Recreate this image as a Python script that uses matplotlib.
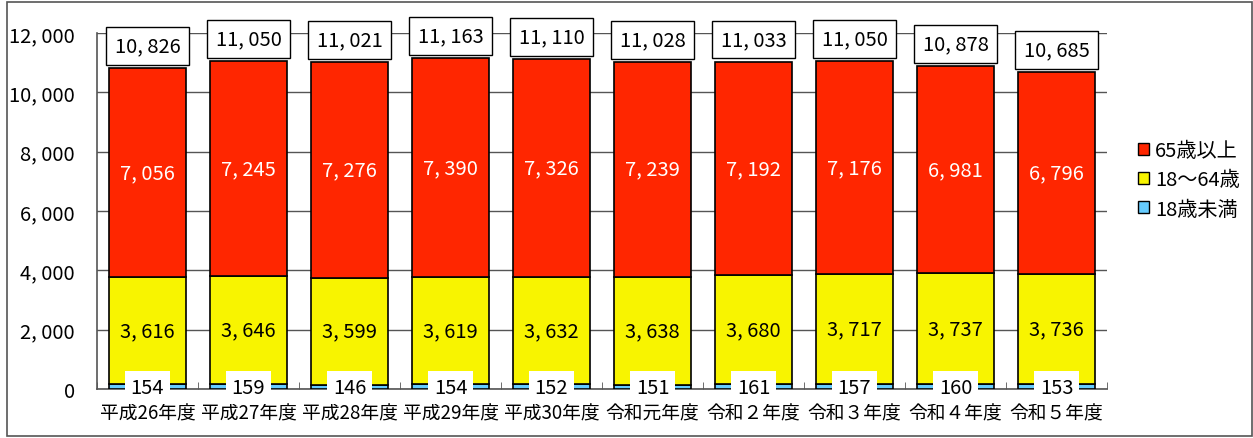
import matplotlib
matplotlib.use("Agg")
import matplotlib.pyplot as plt
from matplotlib.patches import Rectangle, Patch
import numpy as np

plt.rcParams['font.family'] = ['Noto Sans CJK JP', 'DejaVu Sans']

categories = ["平成26年度", "平成27年度", "平成28年度", "平成29年度", "平成30年度",
              "令和元年度", "令和２年度", "令和３年度", "令和４年度", "令和５年度"]
under18 = [154, 159, 146, 154, 152, 151, 161, 157, 160, 153]
age18_64 = [3616, 3646, 3599, 3619, 3632, 3638, 3680, 3717, 3737, 3736]
over65 = [7056, 7245, 7276, 7390, 7326, 7239, 7192, 7176, 6981, 6796]
totals = [10826, 11050, 11021, 11163, 11110, 11028, 11033, 11050, 10878, 10685]
series_names = ["65歳以上", "18～64歳", "18歳未満"]

c_red = "#FF2600"
c_yel = "#F8F400"
c_blu = "#66CCFF"

def fmt(v):
    return "{:,}".format(v).replace(",", ", ")

fig = plt.figure(figsize=(12.53, 4.39), dpi=100)
ax = fig.add_axes([97/1253, 1-390/439, (1107-97)/1253, (390-34)/439])

x = np.arange(len(categories))
w = 0.77
u = np.array(under18)
m = np.array(age18_64)
o = np.array(over65)

ax.bar(x, u, w, color=c_blu, edgecolor="black", linewidth=1.2, zorder=3)
ax.bar(x, m, w, bottom=u, color=c_yel, edgecolor="black", linewidth=1.2, zorder=3)
ax.bar(x, o, w, bottom=u + m, color=c_red, edgecolor="black", linewidth=1.2, zorder=3)

ax.set_xlim(-0.5, len(categories) - 0.5)
ax.set_ylim(0, 12000)
ax.set_yticks(np.arange(0, 12001, 2000))
ax.set_yticklabels([fmt(v) for v in range(0, 12001, 2000)], fontsize=14.5)
ax.yaxis.grid(True, color="#555555", linewidth=1.0, zorder=0)
ax.tick_params(axis='y', length=0, pad=16)
ax.set_xticks(x)
ax.set_xticklabels(categories, fontsize=13.5)
ax.tick_params(axis='x', length=0, pad=10)
ax.set_xticks(np.arange(-0.5, len(categories), 1), minor=True)
ax.tick_params(axis='x', which='minor', direction='in', length=5, color="#555555")
for s in ["top", "right"]:
    ax.spines[s].set_visible(False)
for s in ["left", "bottom"]:
    ax.spines[s].set_color("#555555")
    ax.spines[s].set_linewidth(1.2)

for i in range(len(categories)):
    ax.text(x[i], u[i] + m[i] + o[i] / 2, fmt(over65[i]), ha="center", va="center",
            color="white", fontsize=14.5, zorder=5)
    ax.text(x[i], u[i] + m[i] / 2, fmt(age18_64[i]), ha="center", va="center",
            color="black", fontsize=14.5, zorder=5)
    ax.annotate(fmt(totals[i]), (x[i], totals[i]), xytext=(0, 16), textcoords="offset points",
                ha="center", va="center", fontsize=14.5, zorder=5,
                bbox=dict(boxstyle="square,pad=0.42", facecolor="white", edgecolor="black", linewidth=1))
    ax.annotate(fmt(under18[i]), (x[i], 0), xytext=(0, 1), textcoords="offset points",
                ha="center", va="center", fontsize=14.5, zorder=6,
                bbox=dict(boxstyle="square,pad=0.3", facecolor="white", edgecolor="none"))

handles = [Patch(facecolor=c_red, edgecolor="black"),
           Patch(facecolor=c_yel, edgecolor="black"),
           Patch(facecolor=c_blu, edgecolor="black")]
fig.legend(handles, series_names, loc="center left", bbox_to_anchor=(1130/1253, 1-181/439),
           frameon=False, fontsize=14.5, handlelength=0.55, handleheight=0.55,
           handletextpad=0.3, labelspacing=0.4, borderaxespad=0)

fig.add_artist(Rectangle((7/1253, 2/439), (1252-7)/1253, (437-3)/439, transform=fig.transFigure,
                         fill=False, edgecolor="#555555", linewidth=1.2))

fig.savefig("out.png", dpi=100)
